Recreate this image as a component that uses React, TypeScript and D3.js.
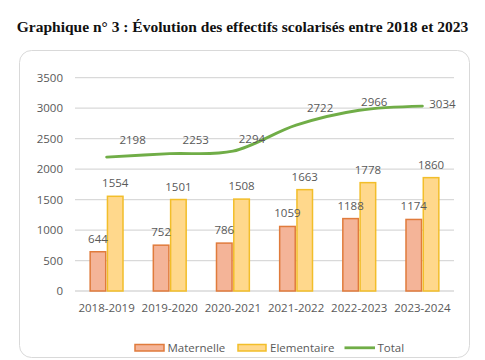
import React from "react";
import * as d3 from "d3";

const categories = ["2018-2019", "2019-2020", "2020-2021", "2021-2022", "2022-2023", "2023-2024"];
const maternelle = [644, 752, 786, 1059, 1188, 1174];
const elementaire = [1554, 1501, 1508, 1663, 1778, 1860];
const total = [2198, 2253, 2294, 2722, 2966, 3034];
const yTicks = [0, 500, 1000, 1500, 2000, 2500, 3000, 3500];
const seriesNames = ["Maternelle", "Elementaire", "Total"];
const title = "Graphique n° 3 : Évolution des effectifs scolarisés entre 2018 et 2023";

// offsets of Total data labels relative to their points (manually placed in original)
const totalLabelOffsets: [number, number][] = [
  [26, -17], [26, -14], [19, -12], [24, -17], [15, -8], [20, -2],
];

const W = 485;
const H = 360;
const plotLeft = 75;
const plotRight = 454;
const plotTop = 77.7;
const plotBottom = 291;

const GRAY = "#595959";
const FONT = "'Open Sans', 'Liberation Sans', sans-serif";

export default function App() {
  const x = d3.scaleBand<string>().domain(categories).range([plotLeft, plotRight]).padding(0);
  const y = d3.scaleLinear().domain([0, 3500]).range([plotBottom, plotTop]);
  const groupW = x.bandwidth() * 0.52;
  const inner = d3
    .scaleBand<string>()
    .domain(["Maternelle", "Elementaire"])
    .range([-groupW / 2, groupW / 2])
    .paddingInner(0.1);
  const cx = (c: string) => (x(c) as number) + x.bandwidth() / 2;

  const line = d3
    .line<number>()
    .x((_, i) => cx(categories[i]))
    .y((d) => y(d))
    .curve(d3.curveCatmullRom.alpha(0.5));

  const matFill = "#F4B498";
  const matStroke = "#E07B3C";
  const elFill = "#FFD88C";
  const elStroke = "#F2BE2A";
  const green = "#70AD47";

  return (
    <svg
      width={W}
      height={H}
      style={{ position: "absolute", left: 0, top: 0, background: "#fff" }}
      xmlns="http://www.w3.org/2000/svg"
    >
      <rect x={0} y={0} width={W} height={H} fill="#fff" />
      <text
        x={W / 2}
        y={32}
        textAnchor="middle"
        fontFamily="'Liberation Serif', 'Times New Roman', serif"
        fontWeight="bold"
        fontSize={15.5}
        fill="#111"
      >
        {title}
      </text>
      <rect x={19.5} y={50.5} width={450} height={307} rx={12} ry={12} fill="#fff" stroke="#d9d9d9" strokeWidth={1} />

      {yTicks.map((t) => (
        <g key={t}>
          <line x1={plotLeft} x2={plotRight} y1={y(t)} y2={y(t)} stroke="#d9d9d9" strokeWidth={1.3} />
          <text x={63} y={y(t)} dy="0.35em" textAnchor="end" fontFamily={FONT} fontSize={11.5} fill={GRAY}>
            {t}
          </text>
        </g>
      ))}

      {categories.map((c, i) => {
        const xm = cx(c) + (inner("Maternelle") as number);
        const xe = cx(c) + (inner("Elementaire") as number);
        const bw = inner.bandwidth();
        return (
          <g key={c}>
            <rect x={xm} y={y(maternelle[i])} width={bw} height={y(0) - y(maternelle[i])} fill={matFill} stroke={matStroke} strokeWidth={1.5} />
            <rect x={xe} y={y(elementaire[i])} width={bw} height={y(0) - y(elementaire[i])} fill={elFill} stroke={elStroke} strokeWidth={1.5} />
            <text x={xm + bw / 2} y={y(maternelle[i]) - 9} textAnchor="middle" fontFamily={FONT} fontSize={11.5} fill={GRAY}>
              {maternelle[i]}
            </text>
            <text x={xe + bw / 2} y={y(elementaire[i]) - 9} textAnchor="middle" fontFamily={FONT} fontSize={11.5} fill={GRAY}>
              {elementaire[i]}
            </text>
            <text x={cx(c)} y={312} textAnchor="middle" fontFamily={FONT} fontSize={11.5} fill={GRAY}>
              {c}
            </text>
          </g>
        );
      })}

      <path d={line(total) || ""} fill="none" stroke={green} strokeWidth={2.8} strokeLinecap="round" />
      {total.map((v, i) => (
        <text
          key={i}
          x={cx(categories[i]) + totalLabelOffsets[i][0]}
          y={y(v) + totalLabelOffsets[i][1]}
          dy="0.35em"
          textAnchor="middle"
          fontFamily={FONT}
          fontSize={11.5}
          fill={GRAY}
        >
          {v}
        </text>
      ))}

      {/* Legend */}
      <g fontFamily={FONT} fontSize={11.5} fill={GRAY}>
        <rect x={135} y={344.5} width={29} height={6.5} fill={matFill} stroke={matStroke} strokeWidth={1.5} />
        <text x={167.5} y={347.8} dy="0.35em">{seriesNames[0]}</text>
        <rect x={238} y={344.5} width={28} height={6.5} fill={elFill} stroke={elStroke} strokeWidth={1.5} />
        <text x={270} y={347.8} dy="0.35em">{seriesNames[1]}</text>
        <line x1={344.5} x2={375} y1={347.8} y2={347.8} stroke={green} strokeWidth={2.8} />
        <text x={377.5} y={347.8} dy="0.35em">{seriesNames[2]}</text>
      </g>
    </svg>
  );
}
